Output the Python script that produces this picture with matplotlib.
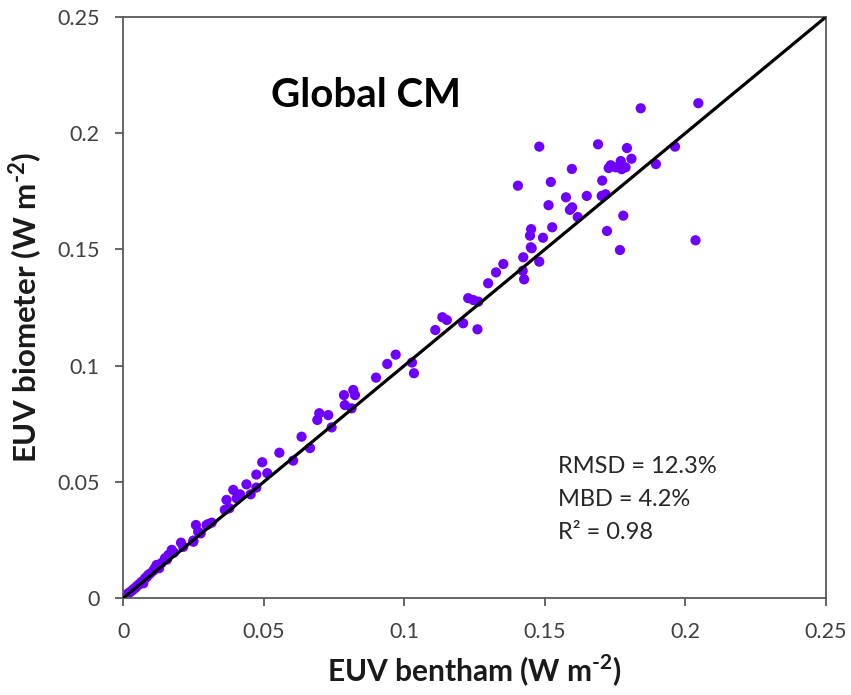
import matplotlib
matplotlib.use("Agg")
import matplotlib.pyplot as plt

plt.rcParams['font.family'] = ['Lato', 'DejaVu Sans']
plt.rcParams['mathtext.fontset'] = 'custom'
plt.rcParams['mathtext.rm'] = 'Lato:bold'
plt.rcParams['mathtext.bf'] = 'Lato:bold'

euv_bentham = [
    0.0005, 0.0010, 0.0017, 0.0023, 0.0029, 0.0035, 0.0041, 0.0047, 0.0053, 0.0059,
    0.0065, 0.0071, 0.0077, 0.0083, 0.0088, 0.0095, 0.0106, 0.0112, 0.0118, 0.0127,
    0.0135, 0.0148, 0.0155, 0.0160, 0.0172, 0.0180, 0.0205, 0.0213, 0.0249, 0.0249,
    0.0258, 0.0266, 0.0275, 0.0296, 0.0302, 0.0314, 0.0361, 0.0377, 0.0367, 0.0403,
    0.0391, 0.0415, 0.0453, 0.0438, 0.0473, 0.0473, 0.0512, 0.0494, 0.0555, 0.0604,
    0.0634, 0.0664, 0.0690, 0.0697, 0.0729, 0.0741, 0.0785, 0.0788, 0.0812, 0.0818,
    0.0824, 0.0899, 0.0939, 0.0969, 0.1027, 0.1034, 0.1110, 0.1135, 0.1151, 0.1209,
    0.1227, 0.1245, 0.1263, 0.1260, 0.1298, 0.1326, 0.1352, 0.1421, 0.1426, 0.1423,
    0.1453, 0.1480, 0.1450, 0.1447, 0.1451, 0.1493, 0.1526, 0.1513, 0.1575, 0.1589,
    0.1597, 0.1617, 0.1649, 0.1702, 0.1716, 0.1721, 0.1767, 0.1779, 0.1404, 0.1521,
    0.1704, 0.1596, 0.1727, 0.1734, 0.1752, 0.1773, 0.1787, 0.1770, 0.1808, 0.1895,
    0.1480, 0.1689, 0.1792, 0.1963, 0.1841, 0.2046, 0.2036,
]
euv_biometer = [
    0.0009, 0.0014, 0.0020, 0.0025, 0.0030, 0.0037, 0.0042, 0.0050, 0.0056, 0.0062,
    0.0070, 0.0063, 0.0085, 0.0090, 0.0099, 0.0105, 0.0117, 0.0128, 0.0142, 0.0128,
    0.0150, 0.0171, 0.0165, 0.0185, 0.0207, 0.0195, 0.0238, 0.0220, 0.0242, 0.0247,
    0.0314, 0.0285, 0.0278, 0.0314, 0.0318, 0.0324, 0.0379, 0.0386, 0.0422, 0.0429,
    0.0465, 0.0446, 0.0446, 0.0489, 0.0475, 0.0531, 0.0537, 0.0584, 0.0625, 0.0591,
    0.0694, 0.0645, 0.0766, 0.0795, 0.0787, 0.0734, 0.0873, 0.0830, 0.0816, 0.0895,
    0.0873, 0.0948, 0.1007, 0.1047, 0.1013, 0.0967, 0.1153, 0.1208, 0.1196, 0.1182,
    0.1290, 0.1282, 0.1275, 0.1156, 0.1354, 0.1401, 0.1437, 0.1408, 0.1371, 0.1466,
    0.1505, 0.1447, 0.1509, 0.1559, 0.1587, 0.1550, 0.1595, 0.1690, 0.1724, 0.1670,
    0.1681, 0.1639, 0.1730, 0.1730, 0.1737, 0.1579, 0.1497, 0.1645, 0.1774, 0.1790,
    0.1796, 0.1846, 0.1850, 0.1862, 0.1853, 0.1845, 0.1853, 0.1880, 0.1890, 0.1867,
    0.1942, 0.1952, 0.1936, 0.1942, 0.2107, 0.2129, 0.1539,
]
one_to_one = [0, 0.25]
ticks = [0, 0.05, 0.1, 0.15, 0.2, 0.25]
tick_labels = ['0', '0.05', '0.1', '0.15', '0.2', '0.25']
stats_lines = ['RMSD = 12.3%', 'MBD = 4.2%', 'R² = 0.98']

fig = plt.figure(figsize=(8.51, 6.95), dpi=100)
ax = fig.add_axes([0.145, 0.1396, 0.8255, 0.836])

ax.scatter(euv_bentham, euv_biometer, s=54, color='#6E00FF', edgecolors='none', zorder=2)
ax.plot(one_to_one, one_to_one, color='black', lw=2.3, zorder=3)

ax.set_xlim(0, 0.25)
ax.set_ylim(0, 0.25)
ax.set_xticks(ticks)
ax.set_xticklabels(tick_labels)
ax.set_yticks(ticks)
ax.set_yticklabels(tick_labels)

grey = '#595959'
for sp in ax.spines.values():
    sp.set_color(grey)
    sp.set_linewidth(1.3)
ax.tick_params(axis='both', direction='out', length=6, width=1.3, color=grey,
               labelsize=15.5, labelcolor='#404040')
ax.tick_params(axis='x', pad=11)
ax.tick_params(axis='y', pad=11)

ax.set_xlabel('EUV bentham (W m$^{\\text{-2}}$)', fontsize=21.5, fontweight='bold',
              color='#1a1a1a', labelpad=8)
ax.set_ylabel('EUV biometer (W m$^{\\text{-2}}$)', fontsize=22.5, fontweight='bold',
              color='#1a1a1a', labelpad=8)

ax.text(0.0525, 0.2160, 'Global CM', fontsize=29, fontweight='bold', color='black',
        ha='left', va='center')

for i, line in enumerate(stats_lines):
    ax.text(0.1545, 0.0565 - i * 0.0142, line, fontsize=17, color='#262626',
            ha='left', va='center')

fig.savefig('out.png', dpi=100)
